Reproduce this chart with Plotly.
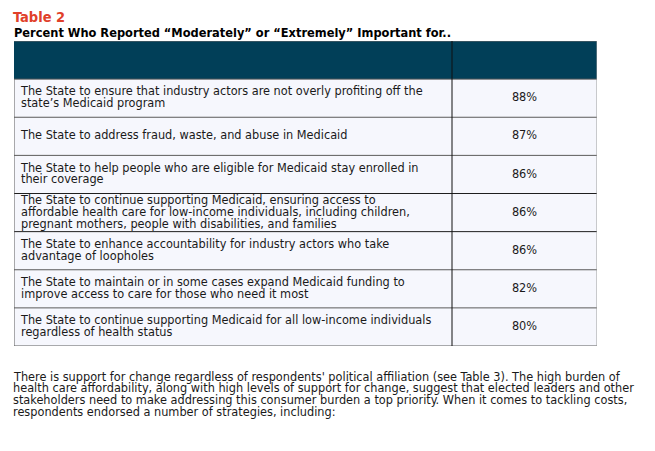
import plotly.graph_objects as go

# textos do quadro
titulo = "Table 2"
subtitulo = "Percent Who Reported “Moderately” or “Extremely” Important for.."

itens = [
    ["The State to ensure that industry actors are not overly profiting off the",
     "state’s Medicaid program"],
    ["The State to address fraud, waste, and abuse in Medicaid"],
    ["The State to help people who are eligible for Medicaid stay enrolled in",
     "their coverage"],
    ["The State to continue supporting Medicaid, ensuring access to",
     "affordable health care for low-income individuals, including children,",
     "pregnant mothers, people with disabilities, and families"],
    ["The State to enhance accountability for industry actors who take",
     "advantage of loopholes"],
    ["The State to maintain or in some cases expand Medicaid funding to",
     "improve access to care for those who need it most"],
    ["The State to continue supporting Medicaid for all low-income individuals",
     "regardless of health status"],
]
percentuais = [88, 87, 86, 86, 86, 82, 80]

paragrafo = [
    "There is support for change regardless of respondents' political affiliation (see Table 3). The high burden of",
    "health care affordability, along with high levels of support for change, suggest that elected leaders and other",
    "stakeholders need to make addressing this consumer burden a top priority. When it comes to tackling costs,",
    "respondents endorsed a number of strategies, including:",
]

# estilo
fonte = "Liberation Sans Narrow, Arial Narrow, DejaVu Sans Condensed, sans-serif"
tam = 12.6
cor_cab = "#013f58"
cor_linha = "#f6f7fd"
divisor = 0.7513     # fronteira entre as duas colunas (fração da largura)
texto_x = 0.012
passo = 0.31         # espaçamento entre linhas de um mesmo item, em linhas da tabela

n = len(itens)

fig = go.Figure()

# fundo das células
shapes = [dict(type="rect", xref="x", yref="y", x0=0, x1=1, y0=-0.5, y1=0.5,
               fillcolor=cor_cab, line=dict(width=0), layer="below")]
for i in range(1, n + 1):
    shapes.append(dict(type="rect", xref="x", yref="y", x0=0, x1=1, y0=i - 0.5, y1=i + 0.5,
                       fillcolor=cor_linha, line=dict(width=0), layer="below"))

# linhas horizontais
escuras = {3, 4}
for i in range(n + 1):
    cor = "#1e1e1e" if i in escuras else "#5a5a5a"
    shapes.append(dict(type="line", xref="x", yref="y", x0=0, x1=1, y0=i + 0.5, y1=i + 0.5,
                       line=dict(color=cor, width=1)))
shapes.append(dict(type="line", xref="x", yref="y", x0=0, x1=1, y0=-0.5, y1=-0.5,
                   line=dict(color="#6a6a6a", width=1)))

# linhas verticais
shapes.append(dict(type="line", xref="x", yref="y", x0=0, x1=0, y0=0.5, y1=n + 0.5,
                   line=dict(color="#5a5a5a", width=1)))
shapes.append(dict(type="line", xref="x", yref="y", x0=divisor, x1=divisor, y0=-0.5, y1=n + 0.5,
                   line=dict(color="#111111", width=1)))
shapes.append(dict(type="line", xref="x", yref="y", x0=1, x1=1, y0=-0.5, y1=n + 0.5,
                   line=dict(color="#9a9a9a", width=1)))
shapes.append(dict(type="rect", xref="x", yref="y", xsizemode="pixel", xanchor=1, x0=1, x1=3,
                   y0=-0.5, y1=n + 0.5, fillcolor="#cfcfcf", line=dict(width=0)))

# texto das afirmações, uma linha de cada vez
xs, ys, txt = [], [], []
for i, linhas in enumerate(itens, start=1):
    k = len(linhas)
    for j, linha in enumerate(linhas):
        xs.append(texto_x)
        ys.append(i + (j - (k - 1) / 2) * passo)
        txt.append(linha)

fig.add_trace(go.Scatter(x=xs, y=ys, text=txt, mode="text", textposition="middle right",
                         textfont=dict(family=fonte, size=tam, color="#1a1a1a"),
                         hoverinfo="skip", showlegend=False))

fig.add_trace(go.Scatter(x=[(divisor + 1) / 2] * n, y=list(range(1, n + 1)),
                         text=[f"{p}%" for p in percentuais], mode="text",
                         textposition="middle center",
                         textfont=dict(family=fonte, size=tam, color="#1a1a1a"),
                         hoverinfo="skip", showlegend=False))

anot = [
    dict(text=f"<b>{titulo}</b>", xref="paper", yref="paper", x=0, y=1, xanchor="left",
         yanchor="top", yshift=33, xshift=-2, borderpad=0, showarrow=False,
         font=dict(family=fonte, size=14.5, color="#e0402a")),
    dict(text=f"<b>{subtitulo}</b>", xref="paper", yref="paper", x=0, y=1, xanchor="left",
         yanchor="middle", yshift=9, xshift=-2, showarrow=False,
         font=dict(family=fonte, size=12.7, color="#000000")),
]
for j, linha in enumerate(paragrafo):
    anot.append(dict(text=linha, xref="paper", yref="paper", x=0, y=0, xanchor="left",
                     yanchor="middle", yshift=-30 - j * 11.7, xshift=-3, showarrow=False,
                     font=dict(family=fonte, size=tam, color="#1a1a1a")))

# a página tem 8 px de margem própria, por isso a figura fica 8 px menor
fig.update_layout(
    width=647, height=443,
    margin=dict(l=6, r=58, t=33, b=105),
    paper_bgcolor="white", plot_bgcolor="white",
    xaxis=dict(range=[0, 1], visible=False, fixedrange=True),
    yaxis=dict(range=[n + 0.5, -0.5], visible=False, fixedrange=True),
    shapes=shapes, annotations=anot,
    showlegend=False,
)

fig.write_html("out.html")
